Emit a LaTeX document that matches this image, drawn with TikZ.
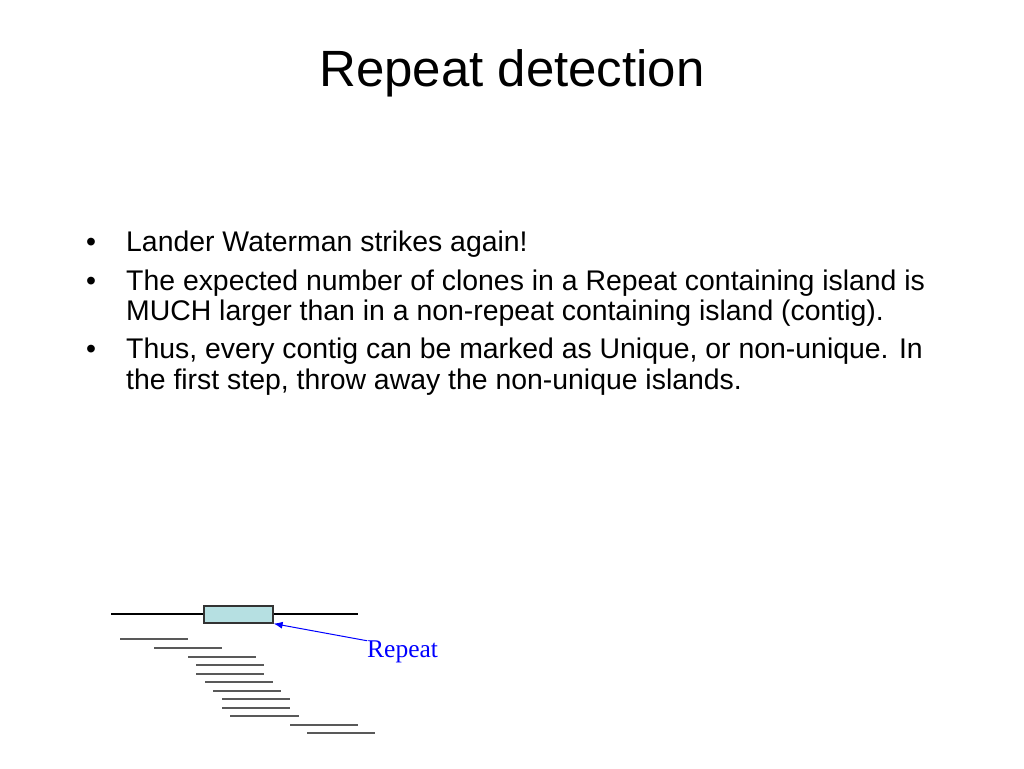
\documentclass[tikz,border=0pt]{standalone}
\usepackage{fontspec}
\usetikzlibrary{arrows.meta}
\setmainfont{Liberation Sans}
\newfontfamily\serifr{Liberation Serif}
\definecolor{boxc}{RGB}{182,224,226}
\begin{document}
\begin{tikzpicture}[x=1pt,y=-1pt,
 txt/.style={anchor=base west,inner sep=0,font=\fontsize{28.4}{34}\selectfont},
 read/.style={line width=1.4pt,black!65},
 bline/.style={line width=1.4pt,black}]
\useasboundingbox (0,0) rectangle (1024,768);
\node[anchor=base,inner sep=0,font=\fontsize{51}{60}\selectfont] (title) at (512,86) {Repeat detection};
\foreach \y in {251,290,358}{\node[txt] at (86,\y) {\textbullet};}
\node[txt] (l1) at (126,251) {Lander Waterman strikes again!};
\node[txt] (l2) at (126,290) {The expected number of clones in a Repeat containing island is};
\node[txt] (l3) at (126,320) {MUCH larger than in a non-repeat containing island (contig).};
\node[txt] (l4) at (126,358) {Thus, every contig can be marked as Unique, or non-unique. In};
\node[txt] (l5) at (126,389) {the first step, throw away the non-unique islands.};
\draw[bline] (111,614) -- (358,614);
\node[draw=black!80,line width=1.2pt,fill=boxc,minimum width=69pt,minimum height=17pt,inner sep=0] (box) at (238.5,614.5) {};
\foreach \a/\b/\y in {120/188/639,154/222/648,188/256/657,196/264/665,196/264/674,205/273/682,213/281/691,222/290/699,222/290/708,230/299/716,290/358/725,307/375/733}
 {\draw[read] (\a,\y) -- (\b,\y);}
\node[anchor=west,inner sep=0,text=blue,font=\serifr\fontsize{25.5}{30}\selectfont] (rep) at (367,652) {Repeat};
\draw[blue,line width=1pt,-{Latex[length=9pt,width=7pt]}] (rep.north west) -- (box.south east);
\end{tikzpicture}
\end{document}
